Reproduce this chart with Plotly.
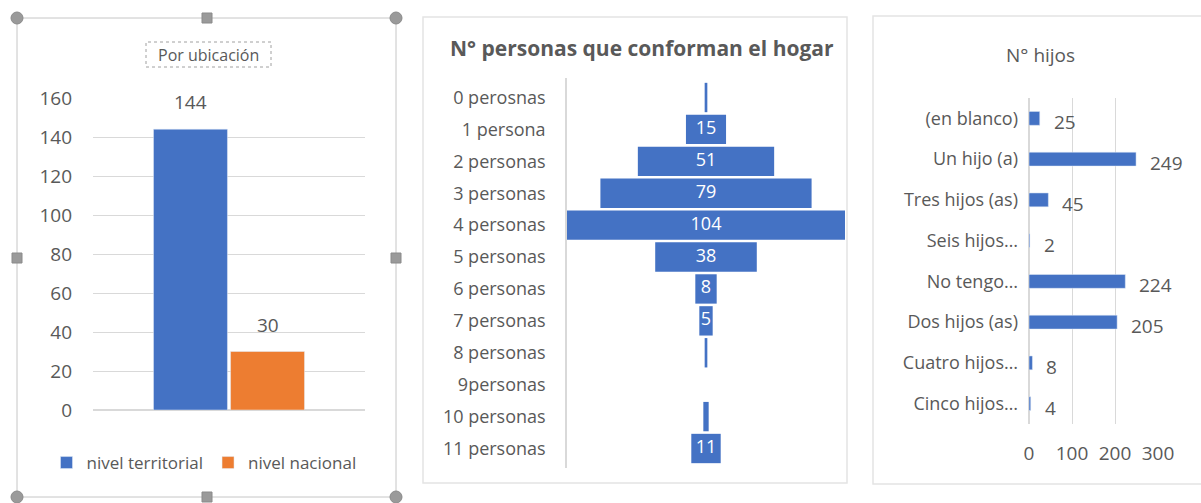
import plotly.graph_objects as go

# ---------------- data ----------------
ubic_series = ["nivel territorial", "nivel nacional"]
ubic_values = [144, 30]
ubic_ticks = [0, 20, 40, 60, 80, 100, 120, 140, 160]

hogar_cats = ["0 perosnas", "1 persona", "2 personas", "3 personas", "4 personas",
              "5 personas", "6 personas", "7 personas", "8 personas", "9personas",
              "10 personas", "11 personas"]
hogar_values = [1, 15, 51, 79, 104, 38, 8, 5, 1, 0, 2, 11]
hogar_labels = ["", "15", "51", "79", "104", "38", "8", "5", "", "", "", "11"]

hijos_cats = ["(en blanco)", "Un hijo (a)", "Tres hijos (as)", "Seis hijos…",
              "No tengo…", "Dos hijos (as)", "Cuatro hijos…", "Cinco hijos…"]
hijos_values = [25, 249, 45, 2, 224, 205, 8, 4]
hijos_ticks = [0, 100, 200, 300]

# ---------------- style ----------------
W, H = 1201, 503
FONT = "Open Sans"
GREY = "#595959"
BLUE = "#4472C4"
ORANGE = "#ED7D31"
GRID = "#d9d9d9"
ubic_colors = [BLUE, ORANGE]


def px(x):
    return x / W


def py(y):
    return 1 - y / H


fig = go.Figure()
annotations = []

# Left panel: two bars side by side
for name, val, col in zip(ubic_series, ubic_values, ubic_colors):
    fig.add_trace(go.Bar(x=[name], y=[val], name=name, marker_color=col, width=0.96,
                         xaxis="x", yaxis="y"))
    annotations.append(dict(x=name, y=val, xref="x", yref="y", text=str(val),
                            showarrow=False, xanchor="center", yanchor="bottom", yshift=12,
                            font=dict(size=19, color=GREY, family=FONT)))

# Middle panel: funnel
fig.add_trace(go.Funnel(y=hogar_cats, x=hogar_values, marker_color=BLUE,
                        textinfo="none", connector=dict(visible=False),
                        showlegend=False, xaxis="x2", yaxis="y2"))
fig.add_trace(go.Scatter(x=[0] * len(hogar_cats), y=hogar_cats, text=hogar_labels,
                         mode="text", textfont=dict(size=18, color="white", family=FONT),
                         showlegend=False, hoverinfo="skip", cliponaxis=False,
                         xaxis="x2", yaxis="y2"))

# Right panel: horizontal bars
fig.add_trace(go.Bar(y=hijos_cats, x=hijos_values, orientation="h", marker_color=BLUE,
                     showlegend=False, xaxis="x3", yaxis="y3"))
for c, v in zip(hijos_cats, hijos_values):
    annotations.append(dict(x=v, y=c, xref="x3", yref="y3", text=str(v), showarrow=False,
                            xanchor="left", yanchor="middle", xshift=12, yshift=-4,
                            font=dict(size=19, color=GREY, family=FONT)))

shapes = []
# panel frames
shapes.append(dict(type="rect", xref="paper", yref="paper", x0=px(17), x1=px(396),
                   y0=py(497), y1=py(18), line=dict(color="#c6c6c6", width=1)))
shapes.append(dict(type="rect", xref="paper", yref="paper", x0=px(423), x1=px(847),
                   y0=py(483), y1=py(17), line=dict(color="#e4e4e4", width=1.5)))
shapes.append(dict(type="rect", xref="paper", yref="paper", x0=px(873), x1=px(1210),
                   y0=py(484), y1=py(16), line=dict(color="#e4e4e4", width=1.5)))
# selection handles
for (hx, hy, kind) in [(17, 18, "circle"), (396, 18, "circle"), (17, 497, "circle"),
                       (396, 497, "circle"), (207, 18, "rect"), (207, 497, "rect"),
                       (17, 258, "rect"), (396, 258, "rect")]:
    r = 6 if kind == "circle" else 5
    shapes.append(dict(type=kind, xref="paper", yref="paper", x0=px(hx - r), x1=px(hx + r),
                       y0=py(hy + r), y1=py(hy - r), fillcolor="#9a9a9a",
                       line=dict(color="#8a8a8a", width=1)))
# dashed title box
shapes.append(dict(type="rect", xref="paper", yref="paper", x0=px(146), x1=px(271),
                   y0=py(67), y1=py(42), line=dict(color="#a0a0a0", width=1, dash="dot")))

annotations += [
    dict(text="Por ubicación", x=px(208), y=py(55), xref="paper", yref="paper",
         xanchor="center", yanchor="middle", showarrow=False,
         font=dict(size=16, color=GREY, family=FONT)),
    dict(text="<b>N° personas que conforman el hogar</b>", x=px(642), y=py(48),
         xref="paper", yref="paper", xanchor="center", yanchor="middle", showarrow=False,
         font=dict(size=21, color=GREY, family=FONT)),
    dict(text="N° hijos", x=px(1040), y=py(55), xref="paper", yref="paper",
         xanchor="center", yanchor="middle", showarrow=False,
         font=dict(size=19, color=GREY, family=FONT)),
]

fig.update_layout(
    width=W, height=H, margin=dict(l=0, r=0, t=0, b=0, autoexpand=False),
    paper_bgcolor="white", plot_bgcolor="white",
    font=dict(family=FONT, color=GREY, size=16),
    funnelgap=0.08, bargap=0.66,
    showlegend=True,
    legend=dict(orientation="h", x=px(204), xanchor="center", y=py(463), yanchor="middle",
                font=dict(size=17, color=GREY, family=FONT), itemwidth=30,
                bgcolor="rgba(0,0,0,0)"),
    xaxis=dict(domain=[px(93), px(365)], anchor="y", range=[-1.265, 2.265],
               showticklabels=False, showgrid=False,
               zeroline=False, showline=False, fixedrange=True, automargin=False),
    yaxis=dict(domain=[py(410), py(98)], anchor="x", range=[0, 160], tickvals=ubic_ticks,
               showgrid=True, gridcolor=GRID, zeroline=True, zerolinecolor=GRID,
               tickfont=dict(size=19, color=GREY), ticklabelstandoff=20, showline=False,
               automargin=False),
    xaxis2=dict(domain=[px(567), px(845)], anchor="y2", range=[-52, 52], visible=False,
                automargin=False),
    yaxis2=dict(domain=[py(468), py(78)], anchor="x2", autorange="reversed", showline=True,
                linecolor=GRID, linewidth=1.5, ticks="", showgrid=False,
                tickfont=dict(size=18, color=GREY), ticklabelstandoff=16, automargin=False),
    xaxis3=dict(domain=[px(1029), px(1158)], anchor="y3", range=[0, 300], tickvals=hijos_ticks,
                showgrid=True, gridcolor=GRID, zeroline=True, zerolinecolor=GRID,
                tickfont=dict(size=19, color=GREY), ticklabelstandoff=16, showline=False,
                automargin=False),
    yaxis3=dict(domain=[py(424), py(98)], anchor="x3", autorange="reversed", showgrid=False,
                ticks="", tickfont=dict(size=18, color=GREY), ticklabelstandoff=10,
                automargin=False),
    shapes=shapes, annotations=annotations,
)

fig.write_html("out.html", config={"displayModeBar": False},
               post_script="document.body.style.margin='0';document.body.style.overflow='hidden';")
